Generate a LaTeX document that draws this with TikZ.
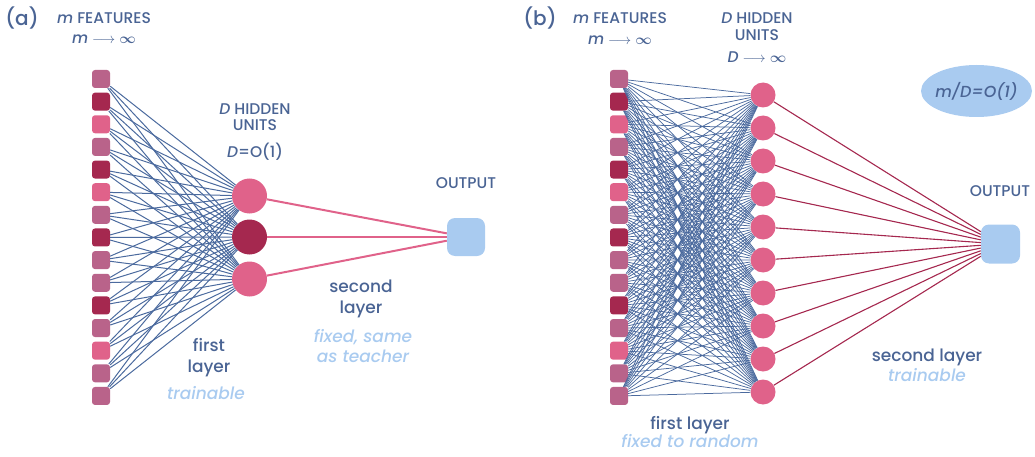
\documentclass[tikz,border=0pt]{standalone}
\usepackage{fontspec}
\IfFontExistsTF{Poppins Medium}{%
  \setmainfont{Poppins Medium}[ItalicFont={Poppins Medium Italic}]%
}{%
  \setmainfont{Poppins}%
}
\usepackage{amsmath}
\usetikzlibrary{shapes.geometric}
\definecolor{txtblue}{HTML}{4A6494}
\definecolor{lightblue}{HTML}{A9CBF0}
\definecolor{edgeblue}{HTML}{4B6A9E}
\definecolor{mauve}{HTML}{B9638A}
\definecolor{crimson}{HTML}{A5284F}
\definecolor{pinkc}{HTML}{E0628A}
\tikzset{
  sq/.style={rectangle, rounded corners=3pt, minimum size=18pt, inner sep=0pt, fill=#1},
  hidA/.style={circle, fill=#1, minimum size=35pt, inner sep=0pt},
  hidB/.style={circle, fill=#1, minimum size=25pt, inner sep=0pt},
  outbox/.style={rectangle, rounded corners=8pt, minimum size=38pt, inner sep=0pt, fill=lightblue},
  lbl/.style={text=txtblue, font=\fontsize{15.5}{16.5}\selectfont, align=center, inner sep=0pt},
  big/.style={text=txtblue, font=\fontsize{17}{21}\selectfont, align=center, inner sep=0pt},
  pale/.style={text=lightblue, font=\fontsize{17}{20}\selectfont\itshape, align=center, inner sep=0pt},
  panel/.style={text=txtblue, font=\fontsize{20}{24}\selectfont, inner sep=0pt},
  edgeA/.style={draw=edgeblue, line width=1pt},
  edgeB/.style={draw=edgeblue, line width=0.75pt},
  secA/.style={draw=pinkc, line width=2pt},
  secB/.style={draw=crimson, line width=1.1pt},
}
\begin{document}
\begin{tikzpicture}[x=1pt,y=-1pt]
\useasboundingbox (0,0) rectangle (1035,457);
% ---------- panel (a)
\foreach \c [count=\i] in {mauve,crimson,pinkc,mauve,crimson,pinkc,mauve,crimson,mauve,mauve,crimson,mauve,pinkc,mauve,mauve}
  \node[sq=\c] (a\i) at (101,{79+(\i-1)*22.64}) {};
\node[hidA=pinkc] (ha1) at (249.5,196) {};
\node[hidA=crimson] (ha2) at (249.5,237) {};
\node[hidA=pinkc] (ha3) at (249.5,279) {};
\node[outbox] (oa) at (466,237) {};
\foreach \i in {1,...,15}
  \foreach \j in {1,2,3}
    \draw[edgeA] (a\i) -- (ha\j);
\foreach \j in {1,2,3}
  \draw[secA] (ha\j) -- (oa);
\node[panel] (pa) at (22,18) {(a)};
\node[lbl] (fa) at (104,18) {\textit{m} FEATURES};
\node[lbl] (ma) at (104,39) {\textit{m} $\longrightarrow$ $\boldsymbol{\infty}$};
\node[lbl] (hda) at (255,117) {\textit{D} HIDDEN\\UNITS};
\node[lbl] (doa) at (255,152) {\textit{D}=O(1)};
\node[lbl] (outa) at (466,183) {OUTPUT};
\node[big] (sla) at (361,299) {second\\layer};
\node[pale] (fxa) at (363,346) {fixed, same\\as teacher};
\node[big] (fla) at (209,358) {first\\layer};
\node[pale] (tra) at (206,393) {trainable};
% ---------- panel (b)
\foreach \c [count=\i] in {mauve,crimson,pinkc,mauve,crimson,pinkc,mauve,crimson,mauve,mauve,crimson,mauve,pinkc,mauve,mauve}
  \node[sq=\c] (b\i) at (619,{79+(\i-1)*22.64}) {};
\foreach \j in {1,...,10}
  \node[hidB=pinkc] (hb\j) at (763,{95+(\j-1)*33}) {};
\node[outbox, minimum size=39pt] (ob) at (1000.5,244) {};
\foreach \i in {1,...,15}
  \foreach \j in {1,...,10}
    \draw[edgeB] (b\i) -- (hb\j);
\foreach \j in {1,...,10}
  \draw[secB] (hb\j) -- (ob);
\node[panel] (pb) at (540,18) {(b)};
\node[lbl] (fb) at (620,18) {\textit{m} FEATURES};
\node[lbl] (mb) at (620,40) {\textit{m} $\longrightarrow$ $\boldsymbol{\infty}$};
\node[lbl] (hdb) at (757,26.5) {\textit{D} HIDDEN\\UNITS};
\node[lbl] (db) at (757,57) {\textit{D} $\longrightarrow$ $\boldsymbol{\infty}$};
\node[ellipse, fill=lightblue, minimum width=111pt, minimum height=52pt, inner sep=0pt] (el) at (976.5,91) {};
\node[lbl, font=\fontsize{16}{19}\selectfont\itshape] (eltxt) at (el.center) {m/D=O(1)};
\node[lbl] (outb) at (1000,191) {OUTPUT};
\node[big] (slb) at (927,357) {second layer};
\node[pale] (trb) at (927,375) {trainable};
\node[big] (flb) at (690,425) {first layer};
\node[pale] (fxb) at (690,441) {fixed to random};
\end{tikzpicture}
\end{document}
